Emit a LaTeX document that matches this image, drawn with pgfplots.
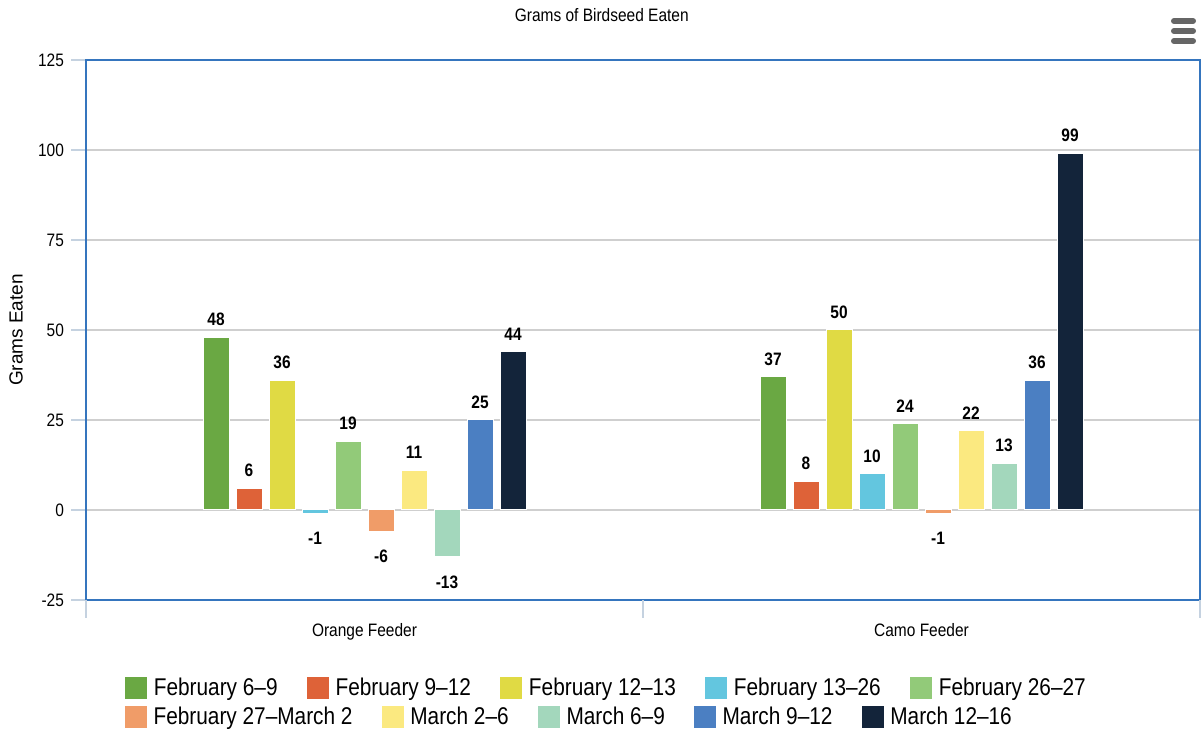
\documentclass[border=0pt]{standalone}
\usepackage{fontspec}
\setmainfont{Liberation Sans}[FakeStretch=0.86]
\newfontfamily\uprightlabel{Liberation Sans}
\usepackage{pgfplots}
\pgfplotsset{compat=1.18}

\definecolor{c1}{HTML}{6AA843}
\definecolor{c2}{HTML}{DE6238}
\definecolor{c3}{HTML}{E0DA44}
\definecolor{c4}{HTML}{63C6DF}
\definecolor{c5}{HTML}{92CA79}
\definecolor{c6}{HTML}{F09C68}
\definecolor{c7}{HTML}{FBE980}
\definecolor{c8}{HTML}{A3D7BC}
\definecolor{c9}{HTML}{4B7FC2}
\definecolor{c10}{HTML}{13243A}
\definecolor{frameblue}{HTML}{3575BE}
\definecolor{gridgray}{HTML}{CFCFCF}
\definecolor{tickgray}{HTML}{C5D2E0}
\definecolor{menugray}{HTML}{666666}

\pgfplotsset{
  swatch/.style={/pgfplots/legend image code/.code={%
      \fill[##1] (0pt,-5.75pt) rectangle (11.5pt,5.75pt);}},
  ybar legend/.style={swatch},
  legendrow/.style={
    legend columns=-1,
    legend cell align=left,
    legend style={draw=none, fill=none, anchor=west, inner sep=0pt,
      font=\fontsize{12.1}{14}\selectfont,
      nodes={inner xsep=3pt, inner ysep=0pt},
      /tikz/every odd column/.append style={nodes={inner xsep=2pt}},
      /tikz/every even column/.append style={column sep=11pt}},
  },
}

\begin{document}
\begin{tikzpicture}
\path[use as bounding box] (0,0) rectangle (601.5pt,366pt);
\begin{axis}[
  at={(43pt,66pt)}, anchor=south west,
  scale only axis, width=557pt, height=270pt,
  ybar=3.5pt, bar width=13pt,
  xmin=-0.5, xmax=1.5, ymin=-25, ymax=125,
  xtick={0,1}, xticklabels={Orange Feeder, Camo Feeder},
  xtick style={draw=none},
  extra x ticks={-0.5,0.5,1.5}, extra x tick labels={},
  extra x tick style={major tick length=9pt, grid=none,
    xtick style={draw=tickgray, line width=0.6pt}},
  xtick pos=left, ytick pos=left,
  ytick={-25,0,25,50,75,100,125},
  ytick style={draw=tickgray, line width=0.6pt},
  major tick length=7.5pt, tick align=outside,
  ymajorgrids, grid style={draw=gridgray, line width=0.7pt},
  axis line style={draw=frameblue, line width=1.4pt},
  /pgf/number format/assume math mode=true,
  tick label style={font=\fontsize{9}{10}\selectfont},
  xticklabel style={yshift=-0.5pt},
  ylabel={Grams Eaten},
  ylabel style={at={(axis description cs:-0.0628,0.5)}, anchor=center,
    font=\uprightlabel\fontsize{9.5}{11}\selectfont},
  title={Grams of Birdseed Eaten},
  title style={at={(axis description cs:0.463,1)}, anchor=center, yshift=16.5pt,
    font=\fontsize{9}{10}\selectfont},
  nodes near coords={\rule{0pt}{9.9pt}\pgfmathprintnumber{\pgfplotspointmeta}},
  nodes near coords style={font=\bfseries\fontsize{9}{10}\selectfont,
    inner ysep=5.5pt, inner xsep=0pt},
  every axis plot/.append style={draw=white, line width=0.5pt},
  legendrow,
  legend style={at={(0.0336,-0.163)}},
]
\addplot[fill=c1]  coordinates {(0,48) (1,37)};
\addplot[fill=c2]  coordinates {(0,6) (1,8)};
\addplot[fill=c3]  coordinates {(0,36) (1,50)};
\addplot[fill=c4]  coordinates {(0,-1) (1,10)};
\addplot[fill=c5]  coordinates {(0,19) (1,24)};
\addplot[fill=c6]  coordinates {(0,-6) (1,-1)};
\addplot[fill=c7]  coordinates {(0,11) (1,22)};
\addplot[fill=c8]  coordinates {(0,-13) (1,13)};
\addplot[fill=c9]  coordinates {(0,25) (1,36)};
\addplot[fill=c10] coordinates {(0,44) (1,99)};
\legend{February 6--9, February 9--12, February 12--13, February 13--26, February 26--27}
\end{axis}
% second legend row
\begin{axis}[
  at={(43pt,66pt)}, anchor=south west,
  scale only axis, width=557pt, height=270pt,
  hide axis, xmin=0, xmax=1, ymin=0, ymax=1,
  swatch, legendrow,
  legend style={at={(0.0336,-0.2167)}},
]
\addlegendimage{fill=c6, draw=white}
\addlegendentry{February 27--March 2}
\addlegendimage{fill=c7, draw=white}
\addlegendentry{March 2--6}
\addlegendimage{fill=c8, draw=white}
\addlegendentry{March 6--9}
\addlegendimage{fill=c9, draw=white}
\addlegendentry{March 9--12}
\addlegendimage{fill=c10, draw=white}
\addlegendentry{March 12--16}
\end{axis}
% export menu icon
\foreach \yy in {355.5,350.5,345.5}
  \draw[line width=3pt, line cap=round, draw=menugray] (587pt,\yy pt) -- (596.5pt,\yy pt);
\end{tikzpicture}
\end{document}
